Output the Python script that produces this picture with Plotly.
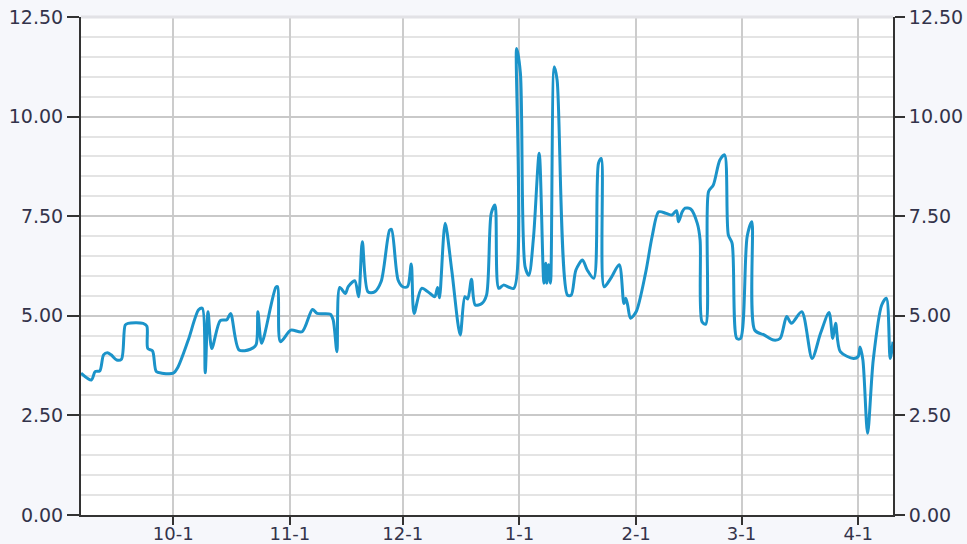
import plotly.graph_objects as go

dates = [
    "2018-09-06 12:00", "2018-09-09 06:00", "2018-09-10 06:00", "2018-09-11 12:00",
    "2018-09-12 12:00", "2018-09-13 12:00", "2018-09-14 12:00", "2018-09-16 00:00",
    "2018-09-17 06:00", "2018-09-18 06:00", "2018-09-19 00:00", "2018-09-23 00:00",
    "2018-09-24 00:00", "2018-09-24 06:00", "2018-09-25 12:00", "2018-09-26 12:00",
    "2018-09-28 00:00", "2018-10-01 00:00", "2018-10-02 06:00", "2018-10-05 00:00",
    "2018-10-07 18:00", "2018-10-08 18:00", "2018-10-09 12:00", "2018-10-10 06:00",
    "2018-10-11 06:00", "2018-10-13 12:00", "2018-10-15 06:00", "2018-10-16 06:00",
    "2018-10-18 12:00", "2018-10-21 12:00", "2018-10-23 00:00", "2018-10-23 12:00",
    "2018-10-24 12:00", "2018-10-28 06:00", "2018-10-28 18:00", "2018-10-29 12:00",
    "2018-11-01 06:00", "2018-11-04 06:00", "2018-11-07 00:00", "2018-11-08 06:00",
    "2018-11-11 18:00", "2018-11-12 12:00", "2018-11-13 12:00", "2018-11-14 06:00",
    "2018-11-15 18:00", "2018-11-16 12:00", "2018-11-18 06:00", "2018-11-19 06:00",
    "2018-11-20 06:00", "2018-11-21 18:00", "2018-11-23 12:00", "2018-11-25 06:00",
    "2018-11-27 12:00", "2018-11-28 00:00", "2018-11-29 18:00", "2018-12-01 00:00",
    "2018-12-02 06:00", "2018-12-03 06:00", "2018-12-04 00:00", "2018-12-06 00:00",
    "2018-12-08 06:00", "2018-12-09 12:00", "2018-12-10 06:00", "2018-12-10 18:00",
    "2018-12-12 06:00", "2018-12-14 00:00", "2018-12-16 06:00", "2018-12-17 12:00",
    "2018-12-18 06:00", "2018-12-19 06:00", "2018-12-20 06:00", "2018-12-22 00:00",
    "2018-12-23 06:00", "2018-12-24 12:00", "2018-12-25 12:00", "2018-12-26 12:00",
    "2018-12-27 18:00", "2018-12-30 12:00", "2018-12-31 06:00", "2019-01-01 06:00",
    "2019-01-02 12:00", "2019-01-03 12:00", "2019-01-04 18:00", "2019-01-06 06:00",
    "2019-01-07 12:00", "2019-01-08 00:00", "2019-01-08 06:00", "2019-01-08 18:00",
    "2019-01-09 06:00", "2019-01-10 06:00", "2019-01-11 00:00", "2019-01-13 18:00",
    "2019-01-14 18:00", "2019-01-16 00:00", "2019-01-17 18:00", "2019-01-19 00:00",
    "2019-01-20 18:00", "2019-01-22 00:00", "2019-01-22 18:00", "2019-01-23 12:00",
    "2019-01-25 06:00", "2019-01-27 12:00", "2019-01-28 18:00", "2019-01-29 06:00",
    "2019-01-29 18:00", "2019-01-30 12:00", "2019-02-01 00:00", "2019-02-03 12:00",
    "2019-02-05 06:00", "2019-02-07 00:00", "2019-02-09 00:00", "2019-02-10 12:00",
    "2019-02-11 18:00", "2019-02-12 06:00", "2019-02-13 06:00", "2019-02-14 00:00",
    "2019-02-15 12:00", "2019-02-17 06:00", "2019-02-18 00:00", "2019-02-18 12:00",
    "2019-02-19 12:00", "2019-02-20 06:00", "2019-02-21 12:00", "2019-02-23 06:00",
    "2019-02-24 12:00", "2019-02-25 12:00", "2019-02-26 12:00", "2019-02-27 18:00",
    "2019-02-28 18:00", "2019-03-02 12:00", "2019-03-03 18:00", "2019-03-04 12:00",
    "2019-03-07 00:00", "2019-03-09 12:00", "2019-03-11 06:00", "2019-03-13 00:00",
    "2019-03-14 06:00", "2019-03-17 00:00", "2019-03-19 18:00", "2019-03-22 00:00",
    "2019-03-24 06:00", "2019-03-25 06:00", "2019-03-26 00:00", "2019-03-27 06:00",
    "2019-03-30 18:00", "2019-04-01 00:00", "2019-04-01 12:00", "2019-04-02 06:00",
    "2019-04-03 12:00", "2019-04-05 00:00", "2019-04-07 06:00", "2019-04-08 12:00",
    "2019-04-09 12:00", "2019-04-10 06:00",
]

values = [
    3.56, 3.39, 3.60, 3.62,
    4.02, 4.07, 4.02, 3.89,
    3.91, 4.77, 4.81, 4.81,
    4.74, 4.18, 4.12, 3.60,
    3.56, 3.56, 3.71, 4.39,
    5.15, 5.19, 3.57, 5.10,
    4.18, 4.88, 4.90, 5.06,
    4.14, 4.16, 4.27, 5.10,
    4.31, 5.71, 5.73, 4.35,
    4.64, 4.60, 5.16, 5.06,
    5.04, 4.90, 4.10, 5.71,
    5.56, 5.73, 5.88, 5.48,
    6.86, 5.60, 5.60, 5.86,
    7.15, 7.17, 5.90, 5.73,
    5.73, 6.30, 5.06, 5.69,
    5.56, 5.48, 5.71, 5.45,
    7.32, 6.15, 4.52, 5.48,
    5.42, 5.92, 5.27, 5.31,
    5.52, 7.57, 7.78, 5.69,
    5.77, 5.69, 11.71, 11.09,
    6.23, 6.02, 6.99, 9.08,
    5.82, 6.32, 5.82, 6.28,
    5.82, 11.25, 10.92, 5.52,
    5.52, 6.15, 6.40, 6.15,
    5.94, 8.83, 8.95, 5.73,
    5.94, 6.28, 5.31, 5.44,
    5.27, 4.94, 5.10, 6.07,
    6.99, 7.61, 7.57, 7.53,
    7.64, 7.36, 7.61, 7.70,
    7.68, 7.32, 6.90, 4.85,
    4.79, 8.12, 8.28, 8.91,
    9.04, 7.03, 6.82, 4.43,
    4.43, 6.99, 7.36, 4.64,
    4.52, 4.39, 4.43, 4.98,
    4.81, 5.10, 3.93, 4.56,
    5.08, 4.43, 4.81, 4.10,
    3.93, 3.98, 4.22, 3.89,
    2.05, 3.89, 5.27, 5.44,
    3.93, 4.35,
]

x_range = ["2018-09-06 12:00", "2019-04-10 06:00"]
y_ticks = [0, 2.5, 5, 7.5, 10, 12.5]
y_range = [0, 12.5]

font = dict(family="DejaVu Sans", size=19, color="#33334a")
xfont = dict(family="DejaVu Sans", size=18, color="#33334a")

fig = go.Figure()
fig.add_trace(go.Scatter(
    x=dates, y=values, mode="lines",
    line=dict(color="#1b93c9", width=3, shape="spline", smoothing=0.8),
    showlegend=False, hoverinfo="skip",
))
# mirror axis carrier (fully transparent)
fig.add_trace(go.Scatter(
    x=dates, y=values, mode="lines", yaxis="y2",
    line=dict(color="rgba(0,0,0,0)", width=0),
    showlegend=False, hoverinfo="skip",
))

axis_common = dict(
    ticks="outside", tickwidth=2, tickcolor="#333333",
    showline=True, linecolor="#333333", linewidth=2,
    zeroline=False, automargin=False,
    ticklabeloverflow="allow",
)

fig.update_layout(
    width=967, height=544,
    margin=dict(l=81, r=74, t=17, b=29, autoexpand=False),
    paper_bgcolor="#f6f7fb",
    plot_bgcolor="#ffffff",
    font=font,
    xaxis=dict(
        type="date", range=x_range,
        tick0="2018-10-01", dtick="M1", tickformat="%-m-%-d", ticklen=8,
        ticklabelstandoff=-7, tickfont=xfont,
        showgrid=True, gridcolor="#cccccc", gridwidth=2,
        **axis_common,
    ),
    yaxis=dict(
        range=y_range, tickvals=y_ticks, tickformat=".2f", ticklen=12,
        tickfont=font,
        showgrid=True, gridcolor="#c9c9c9", gridwidth=2,
        minor=dict(dtick=0.5, showgrid=True, gridcolor="#e4e4e4", gridwidth=2, ticks=""),
        **axis_common,
    ),
    yaxis2=dict(
        range=y_range, tickvals=y_ticks, tickformat=".2f", ticklen=10,
        tickfont=font,
        overlaying="y", side="right", anchor="x",
        showgrid=False,
        **axis_common,
    ),
)

# plot top edge shade
fig.add_shape(type="line", xref="paper", yref="paper", x0=0, x1=1, y0=1, y1=1,
              line=dict(color="#e2e2e6", width=3))

fig.write_html(
    "out.html",
    config={"displayModeBar": False},
    post_script="document.body.style.margin='0';document.body.style.background='#f6f7fb';",
)
